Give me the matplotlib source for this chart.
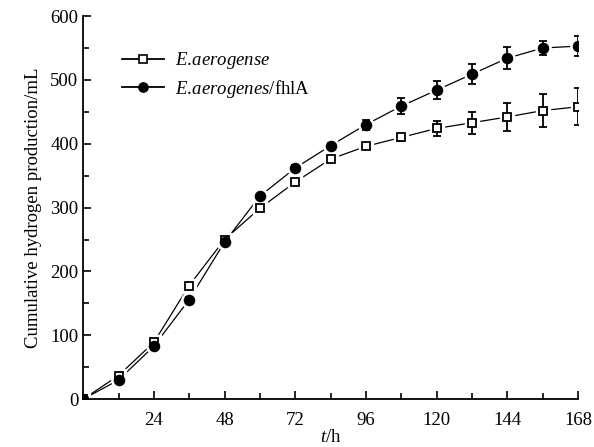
import matplotlib
matplotlib.use("Agg")
import matplotlib.pyplot as plt
from matplotlib.ticker import MultipleLocator, FixedLocator

plt.rcParams['font.family'] = ['Liberation Serif', 'DejaVu Serif']
plt.rcParams['mathtext.fontset'] = 'custom'
plt.rcParams['mathtext.rm'] = 'Liberation Serif'
plt.rcParams['mathtext.it'] = 'Liberation Serif:italic'

hours = [0, 12, 24, 36, 48, 60, 72, 84, 96, 108, 120, 132, 144, 156, 168]
wild = [0, 37, 89, 178, 250, 299, 340, 376, 396, 410, 424, 433, 442, 452, 458]
wild_err = [0, 3, 3, 4, 4, 4, 4, 4, 4, 6, 12, 17, 22, 26, 29]
mutant = [0, 30, 83, 156, 246, 318, 362, 397, 430, 459, 484, 509, 534, 550, 553]
mutant_err = [0, 3, 3, 4, 4, 4, 4, 4, 8, 13, 14, 16, 17, 11, 16]
label_wild = r"$\mathit{E.\!aerogense}$"
label_mut = r"$\mathit{E.\!aerogenes}$/fhlA"

fig = plt.figure(figsize=(5.94, 4.47), dpi=100)
ax = fig.add_axes([0.14, 0.107, 0.833, 0.857])

for y, e, mk, fc, ms, lab in [(wild, wild_err, 's', 'white', 6.0, label_wild),
                              (mutant, mutant_err, 'o', 'black', 7.0, label_mut)]:
    ax.plot(hours, y, color='black', lw=0.9, zorder=1)
    ax.plot(hours, y, ls='none', marker=mk, ms=ms + 4, mfc='white', mec='white', zorder=2)
    ax.errorbar(hours, y, yerr=e, fmt='none', ecolor='black', elinewidth=1.3,
                capsize=3, capthick=1.3, zorder=3)
    ax.plot(hours, y, ls='none', marker=mk, ms=ms, mfc=fc, mec='black', mew=1.3, zorder=4)
    ax.plot([], [], color='black', lw=1.3, marker=mk, ms=ms - 0.5, mfc=fc, mec='black',
            mew=1.2, label=lab)

ax.set_xlim(0, 168)
ax.set_ylim(0, 600)
ax.xaxis.set_major_locator(FixedLocator([24, 48, 72, 96, 120, 144, 168]))
ax.xaxis.set_minor_locator(MultipleLocator(12))
ax.yaxis.set_major_locator(MultipleLocator(100))
ax.yaxis.set_minor_locator(MultipleLocator(50))
ax.tick_params(which='both', direction='in', width=1.2, labelsize=13.5)
ax.tick_params(which='major', length=6)
ax.tick_params(which='minor', length=4)
ax.tick_params(axis='x', pad=9)
for s in ['top', 'right']:
    ax.spines[s].set_visible(False)
for s in ['left', 'bottom']:
    ax.spines[s].set_linewidth(1.3)

ax.set_xlabel(r"$t$/h", fontsize=13.5, labelpad=0)
ax.set_ylabel("Cumulative hydrogen production/mL", fontsize=13.5, labelpad=6)

leg = ax.legend(loc='upper left', bbox_to_anchor=(0.045, 0.955), frameon=False,
                fontsize=13.5, handlelength=2.2, handletextpad=0.6, labelspacing=0.35)

fig.savefig("out.png", dpi=100)
